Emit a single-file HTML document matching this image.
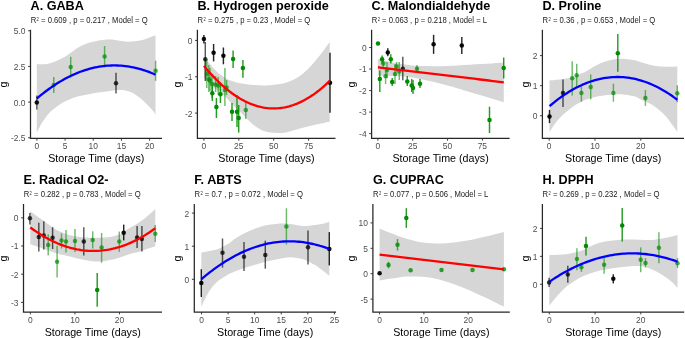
<!DOCTYPE html>
<html><head><meta charset="utf-8"><style>
html,body{margin:0;padding:0;background:#fff;}
svg{display:block;will-change:transform;}
text{font-family:"Liberation Sans",sans-serif;}
.tt{font-size:12.65px;font-weight:bold;fill:#000;}
.st{font-size:8.6px;fill:#1a1a1a;}
.at{font-size:8.45px;fill:#4d4d4d;}
.xt{font-size:10.7px;fill:#000;}
</style></head><body>
<svg width="685" height="338" viewBox="0 0 685 338">
<rect width="685" height="338" fill="#fff"/>
<path d="M36.80,63.90 C37.50,63.95 39.30,64.20 41.00,64.20 C42.70,64.20 45.00,64.22 47.00,63.90 C49.00,63.58 51.00,63.00 53.00,62.30 C55.00,61.60 57.00,60.62 59.00,59.70 C61.00,58.78 63.17,57.87 65.00,56.80 C66.83,55.73 68.07,54.70 70.00,53.30 C71.93,51.90 74.38,49.80 76.60,48.40 C78.82,47.00 81.07,45.87 83.30,44.90 C85.53,43.93 87.78,43.27 90.00,42.60 C92.22,41.93 94.38,41.33 96.60,40.90 C98.82,40.47 101.07,40.22 103.30,40.00 C105.53,39.78 108.05,39.60 110.00,39.60 C111.95,39.60 113.07,39.77 115.00,40.00 C116.93,40.23 119.38,40.72 121.60,41.00 C123.82,41.28 126.07,41.65 128.30,41.70 C130.53,41.75 132.78,41.53 135.00,41.30 C137.22,41.07 139.38,40.85 141.60,40.30 C143.82,39.75 145.98,38.83 148.30,38.00 C150.62,37.17 154.30,35.75 155.50,35.30 L155.50,114.90L155.50,114.90 C155.13,114.30 154.78,113.12 153.30,111.30 C151.82,109.48 148.82,106.22 146.60,104.00 C144.38,101.78 142.22,99.78 140.00,98.00 C137.78,96.22 135.53,94.52 133.30,93.30 C131.07,92.08 128.82,91.25 126.60,90.70 C124.38,90.15 122.77,89.97 120.00,90.00 C117.23,90.03 113.33,90.52 110.00,90.90 C106.67,91.28 103.33,91.78 100.00,92.30 C96.67,92.82 93.33,93.38 90.00,94.00 C86.67,94.62 82.50,95.45 80.00,96.00 C77.50,96.55 76.95,96.63 75.00,97.30 C73.05,97.97 70.53,99.00 68.30,100.00 C66.07,101.00 63.82,101.97 61.60,103.30 C59.38,104.63 57.22,106.22 55.00,108.00 C52.78,109.78 50.52,111.45 48.30,114.00 C46.08,116.55 43.62,120.20 41.70,123.30 C39.78,126.40 37.62,131.05 36.80,132.60 Z" fill="#d6d6d6"/>
<line x1="36.80" y1="95.50" x2="36.80" y2="109.50" stroke="#000000" stroke-opacity="0.62" stroke-width="1.45"/>
<circle cx="36.80" cy="102.40" r="2.25" fill="#000000" fill-opacity="0.93"/>
<line x1="53.80" y1="76.90" x2="53.80" y2="93.10" stroke="#008b00" stroke-opacity="0.58" stroke-width="1.45"/>
<circle cx="53.80" cy="85.10" r="2.25" fill="#008b00" fill-opacity="0.70"/>
<line x1="70.70" y1="56.80" x2="70.70" y2="77.50" stroke="#008b00" stroke-opacity="0.58" stroke-width="1.45"/>
<circle cx="70.70" cy="67.10" r="2.25" fill="#008b00" fill-opacity="0.70"/>
<line x1="104.60" y1="46.00" x2="104.60" y2="67.30" stroke="#008b00" stroke-opacity="0.58" stroke-width="1.45"/>
<circle cx="104.60" cy="56.60" r="2.25" fill="#008b00" fill-opacity="0.70"/>
<line x1="116.00" y1="72.70" x2="116.00" y2="93.50" stroke="#000000" stroke-opacity="0.66" stroke-width="1.45"/>
<circle cx="116.00" cy="83.30" r="2.25" fill="#000000" fill-opacity="0.76"/>
<line x1="155.60" y1="60.70" x2="155.60" y2="80.80" stroke="#008b00" stroke-opacity="0.58" stroke-width="1.45"/>
<circle cx="155.60" cy="70.80" r="2.25" fill="#008b00" fill-opacity="0.70"/>
<polyline points="36.80,98.50 38.81,96.81 40.82,95.16 42.84,93.56 44.85,92.00 46.86,90.49 48.87,89.02 50.88,87.59 52.89,86.21 54.91,84.87 56.92,83.58 58.93,82.33 60.94,81.13 62.95,79.97 64.97,78.86 66.98,77.79 68.99,76.76 71.00,75.78 73.01,74.84 75.03,73.95 77.04,73.10 79.05,72.30 81.06,71.54 83.07,70.83 85.08,70.16 87.10,69.53 89.11,68.95 91.12,68.41 93.13,67.92 95.14,67.47 97.16,67.07 99.17,66.71 101.18,66.40 103.19,66.13 105.20,65.90 107.22,65.72 109.23,65.58 111.24,65.49 113.25,65.44 115.26,65.44 117.27,65.48 119.29,65.56 121.30,65.69 123.31,65.87 125.32,66.09 127.33,66.35 129.35,66.66 131.36,67.01 133.37,67.40 135.38,67.84 137.39,68.33 139.41,68.86 141.42,69.43 143.43,70.05 145.44,70.71 147.45,71.42 149.46,72.17 151.48,72.97 153.49,73.81 155.50,74.69" fill="none" stroke="#0000ff" stroke-width="2.3" stroke-linejoin="round"/>
<path d="M30.50,29.70 V138.30 H162.00" fill="none" stroke="#262626" stroke-width="1.25"/>
<line x1="28.10" y1="137.77" x2="30.50" y2="137.77" stroke="#333" stroke-width="0.95"/>
<text x="25.50" y="141.17" class="at" text-anchor="end">-2.5</text>
<line x1="28.10" y1="102.10" x2="30.50" y2="102.10" stroke="#333" stroke-width="0.95"/>
<text x="25.50" y="105.50" class="at" text-anchor="end">0.0</text>
<line x1="28.10" y1="66.42" x2="30.50" y2="66.42" stroke="#333" stroke-width="0.95"/>
<text x="25.50" y="69.83" class="at" text-anchor="end">2.5</text>
<line x1="28.10" y1="30.75" x2="30.50" y2="30.75" stroke="#333" stroke-width="0.95"/>
<text x="25.50" y="34.15" class="at" text-anchor="end">5.0</text>
<line x1="36.90" y1="138.30" x2="36.90" y2="140.70" stroke="#333" stroke-width="0.95"/>
<text x="36.90" y="149.20" class="at" text-anchor="middle">0</text>
<line x1="65.07" y1="138.30" x2="65.07" y2="140.70" stroke="#333" stroke-width="0.95"/>
<text x="65.07" y="149.20" class="at" text-anchor="middle">5</text>
<line x1="93.25" y1="138.30" x2="93.25" y2="140.70" stroke="#333" stroke-width="0.95"/>
<text x="93.25" y="149.20" class="at" text-anchor="middle">10</text>
<line x1="121.42" y1="138.30" x2="121.42" y2="140.70" stroke="#333" stroke-width="0.95"/>
<text x="121.42" y="149.20" class="at" text-anchor="middle">15</text>
<line x1="149.60" y1="138.30" x2="149.60" y2="140.70" stroke="#333" stroke-width="0.95"/>
<text x="149.60" y="149.20" class="at" text-anchor="middle">20</text>
<text x="30.50" y="10.00" class="tt">A. GABA</text>
<text transform="translate(30.70,23.40) scale(0.895,1)" class="st">R<tspan font-size="4.5" dx="0.4" dy="-2.0">2</tspan><tspan dy="2.0"> </tspan>= 0.609 , p = 0.217 , Model = Q</text>
<text x="96.25" y="162.00" class="xt" text-anchor="middle">Storage Time (days)</text>
<text transform="translate(6.94,84.50) rotate(-90)" class="xt" text-anchor="middle">g</text>
<path d="M203.90,58.50 C204.58,59.05 206.65,60.45 208.00,61.80 C209.35,63.15 210.67,65.12 212.00,66.60 C213.33,68.08 214.67,69.42 216.00,70.70 C217.33,71.98 218.33,73.02 220.00,74.30 C221.67,75.58 224.00,77.28 226.00,78.40 C228.00,79.52 229.67,80.20 232.00,81.00 C234.33,81.80 236.33,82.53 240.00,83.20 C243.67,83.87 249.67,84.63 254.00,85.00 C258.33,85.37 262.00,85.52 266.00,85.40 C270.00,85.28 274.83,84.72 278.00,84.30 C281.17,83.88 282.35,83.72 285.00,82.90 C287.65,82.08 290.93,80.93 293.90,79.40 C296.87,77.87 299.85,76.07 302.80,73.70 C305.75,71.33 308.65,68.40 311.60,65.20 C314.55,62.00 317.48,58.37 320.50,54.50 C323.52,50.63 328.17,44.08 329.70,42.00 L329.70,121.70L329.70,121.70 C328.08,122.03 323.28,123.00 320.00,123.70 C316.72,124.40 313.33,125.08 310.00,125.90 C306.67,126.72 303.33,127.65 300.00,128.60 C296.67,129.55 293.00,130.87 290.00,131.60 C287.00,132.33 284.50,132.80 282.00,133.00 C279.50,133.20 277.60,133.02 275.00,132.80 C272.40,132.58 268.82,132.27 266.40,131.70 C263.98,131.13 262.47,130.38 260.50,129.40 C258.53,128.42 256.57,127.28 254.60,125.80 C252.63,124.32 250.67,122.38 248.70,120.50 C246.73,118.62 244.78,116.48 242.80,114.50 C240.82,112.52 238.78,110.57 236.80,108.60 C234.82,106.63 232.87,104.77 230.90,102.70 C228.93,100.63 227.33,98.35 225.00,96.20 C222.67,94.05 219.40,91.83 216.90,89.80 C214.40,87.77 212.17,85.97 210.00,84.00 C207.83,82.03 204.92,79.00 203.90,78.00 Z" fill="#d6d6d6"/>
<line x1="203.90" y1="35.00" x2="203.90" y2="43.50" stroke="#000000" stroke-opacity="0.85" stroke-width="1.45"/>
<circle cx="203.90" cy="39.10" r="2.25" fill="#000000" fill-opacity="0.95"/>
<line x1="205.30" y1="42.00" x2="205.30" y2="81.00" stroke="#000000" stroke-opacity="0.66" stroke-width="1.45"/>
<circle cx="205.30" cy="59.20" r="2.25" fill="#000000" fill-opacity="0.76"/>
<line x1="213.60" y1="44.00" x2="213.60" y2="61.40" stroke="#000000" stroke-opacity="0.85" stroke-width="1.45"/>
<circle cx="213.60" cy="52.70" r="2.25" fill="#000000" fill-opacity="0.95"/>
<line x1="223.40" y1="47.50" x2="223.40" y2="64.30" stroke="#000000" stroke-opacity="0.85" stroke-width="1.45"/>
<circle cx="223.40" cy="55.80" r="2.25" fill="#000000" fill-opacity="0.95"/>
<line x1="233.10" y1="50.40" x2="233.10" y2="68.00" stroke="#008b00" stroke-opacity="0.85" stroke-width="1.45"/>
<circle cx="233.10" cy="59.00" r="2.25" fill="#008b00" fill-opacity="1.00"/>
<line x1="242.90" y1="60.00" x2="242.90" y2="77.70" stroke="#008b00" stroke-opacity="0.85" stroke-width="1.45"/>
<circle cx="242.90" cy="68.00" r="2.25" fill="#008b00" fill-opacity="1.00"/>
<line x1="206.80" y1="59.00" x2="206.80" y2="88.00" stroke="#008b00" stroke-opacity="0.58" stroke-width="1.45"/>
<circle cx="206.80" cy="74.00" r="2.25" fill="#008b00" fill-opacity="0.70"/>
<line x1="208.80" y1="65.00" x2="208.80" y2="92.00" stroke="#008b00" stroke-opacity="0.58" stroke-width="1.45"/>
<circle cx="208.80" cy="79.20" r="2.25" fill="#008b00" fill-opacity="0.70"/>
<line x1="210.00" y1="68.00" x2="210.00" y2="91.00" stroke="#008b00" stroke-opacity="0.58" stroke-width="1.45"/>
<circle cx="210.00" cy="80.50" r="2.25" fill="#008b00" fill-opacity="0.70"/>
<line x1="212.00" y1="74.00" x2="212.00" y2="98.00" stroke="#008b00" stroke-opacity="0.58" stroke-width="1.45"/>
<circle cx="212.00" cy="84.00" r="2.25" fill="#008b00" fill-opacity="0.70"/>
<line x1="215.60" y1="76.00" x2="215.60" y2="92.00" stroke="#008b00" stroke-opacity="0.58" stroke-width="1.45"/>
<circle cx="215.60" cy="84.40" r="2.25" fill="#008b00" fill-opacity="0.70"/>
<line x1="218.20" y1="77.00" x2="218.20" y2="95.00" stroke="#008b00" stroke-opacity="0.58" stroke-width="1.45"/>
<circle cx="218.20" cy="85.50" r="2.25" fill="#008b00" fill-opacity="0.70"/>
<line x1="212.30" y1="85.50" x2="212.30" y2="101.00" stroke="#008b00" stroke-opacity="0.85" stroke-width="1.45"/>
<circle cx="212.30" cy="93.20" r="2.25" fill="#008b00" fill-opacity="1.00"/>
<line x1="220.40" y1="85.00" x2="220.40" y2="103.00" stroke="#008b00" stroke-opacity="0.85" stroke-width="1.45"/>
<circle cx="220.40" cy="94.30" r="2.25" fill="#008b00" fill-opacity="1.00"/>
<line x1="216.40" y1="98.00" x2="216.40" y2="118.00" stroke="#008b00" stroke-opacity="0.85" stroke-width="1.45"/>
<circle cx="216.40" cy="107.00" r="2.25" fill="#008b00" fill-opacity="1.00"/>
<line x1="224.90" y1="68.00" x2="224.90" y2="106.00" stroke="#008b00" stroke-opacity="0.58" stroke-width="1.45"/>
<circle cx="224.90" cy="90.10" r="2.25" fill="#008b00" fill-opacity="0.70"/>
<line x1="226.60" y1="80.00" x2="226.60" y2="95.00" stroke="#008b00" stroke-opacity="0.58" stroke-width="1.45"/>
<circle cx="226.60" cy="87.50" r="2.25" fill="#008b00" fill-opacity="0.70"/>
<line x1="232.00" y1="103.00" x2="232.00" y2="121.00" stroke="#008b00" stroke-opacity="0.85" stroke-width="1.45"/>
<circle cx="232.00" cy="111.80" r="2.25" fill="#008b00" fill-opacity="1.00"/>
<line x1="237.00" y1="95.00" x2="237.00" y2="127.00" stroke="#008b00" stroke-opacity="0.85" stroke-width="1.45"/>
<circle cx="237.00" cy="111.80" r="2.25" fill="#008b00" fill-opacity="1.00"/>
<line x1="238.70" y1="105.00" x2="238.70" y2="132.60" stroke="#008b00" stroke-opacity="0.85" stroke-width="1.45"/>
<circle cx="238.70" cy="118.00" r="2.25" fill="#008b00" fill-opacity="1.00"/>
<line x1="245.80" y1="102.00" x2="245.80" y2="119.00" stroke="#008b00" stroke-opacity="0.58" stroke-width="1.45"/>
<circle cx="245.80" cy="110.10" r="2.25" fill="#008b00" fill-opacity="0.70"/>
<line x1="330.00" y1="52.80" x2="330.00" y2="112.70" stroke="#000000" stroke-opacity="0.85" stroke-width="1.45"/>
<circle cx="330.00" cy="82.70" r="2.25" fill="#000000" fill-opacity="0.95"/>
<polyline points="203.90,65.87 206.03,68.43 208.16,70.92 210.30,73.33 212.43,75.65 214.56,77.90 216.69,80.06 218.83,82.15 220.96,84.16 223.09,86.08 225.22,87.93 227.35,89.70 229.49,91.39 231.62,93.00 233.75,94.53 235.88,95.98 238.02,97.34 240.15,98.63 242.28,99.84 244.41,100.97 246.54,102.03 248.68,103.00 250.81,103.89 252.94,104.70 255.07,105.43 257.21,106.08 259.34,106.66 261.47,107.15 263.60,107.56 265.73,107.90 267.87,108.15 270.00,108.32 272.13,108.42 274.26,108.43 276.39,108.37 278.53,108.22 280.66,108.00 282.79,107.69 284.92,107.31 287.06,106.85 289.19,106.30 291.32,105.68 293.45,104.98 295.58,104.20 297.72,103.33 299.85,102.39 301.98,101.37 304.11,100.27 306.25,99.09 308.38,97.83 310.51,96.49 312.64,95.07 314.77,93.57 316.91,91.99 319.04,90.33 321.17,88.59 323.30,86.77 325.44,84.88 327.57,82.90 329.70,80.84" fill="none" stroke="#ff0000" stroke-width="2.3" stroke-linejoin="round"/>
<path d="M197.40,29.70 V138.30 H335.50" fill="none" stroke="#262626" stroke-width="1.25"/>
<line x1="195.00" y1="113.10" x2="197.40" y2="113.10" stroke="#333" stroke-width="0.95"/>
<text x="192.40" y="116.50" class="at" text-anchor="end">-2</text>
<line x1="195.00" y1="76.75" x2="197.40" y2="76.75" stroke="#333" stroke-width="0.95"/>
<text x="192.40" y="80.15" class="at" text-anchor="end">-1</text>
<line x1="195.00" y1="40.40" x2="197.40" y2="40.40" stroke="#333" stroke-width="0.95"/>
<text x="192.40" y="43.80" class="at" text-anchor="end">0</text>
<line x1="203.90" y1="138.30" x2="203.90" y2="140.70" stroke="#333" stroke-width="0.95"/>
<text x="203.90" y="149.20" class="at" text-anchor="middle">0</text>
<line x1="238.80" y1="138.30" x2="238.80" y2="140.70" stroke="#333" stroke-width="0.95"/>
<text x="238.80" y="149.20" class="at" text-anchor="middle">25</text>
<line x1="273.70" y1="138.30" x2="273.70" y2="140.70" stroke="#333" stroke-width="0.95"/>
<text x="273.70" y="149.20" class="at" text-anchor="middle">50</text>
<line x1="308.60" y1="138.30" x2="308.60" y2="140.70" stroke="#333" stroke-width="0.95"/>
<text x="308.60" y="149.20" class="at" text-anchor="middle">75</text>
<text x="197.40" y="10.00" class="tt">B. Hydrogen peroxide</text>
<text transform="translate(197.60,23.40) scale(0.895,1)" class="st">R<tspan font-size="4.5" dx="0.4" dy="-2.0">2</tspan><tspan dy="2.0"> </tspan>= 0.275 , p = 0.23 , Model = Q</text>
<text x="266.45" y="162.00" class="xt" text-anchor="middle">Storage Time (days)</text>
<text transform="translate(180.89,84.50) rotate(-90)" class="xt" text-anchor="middle">g</text>
<path d="M377.90,59.10 C379.80,59.55 385.48,60.98 389.30,61.80 C393.12,62.62 396.98,63.38 400.80,64.00 C404.62,64.62 408.38,65.15 412.20,65.50 C416.02,65.85 419.88,65.98 423.70,66.10 C427.52,66.22 431.28,66.23 435.10,66.20 C438.92,66.17 442.78,66.03 446.60,65.90 C450.42,65.77 454.18,65.58 458.00,65.40 C461.82,65.22 465.68,65.02 469.50,64.80 C473.32,64.58 477.08,64.33 480.90,64.10 C484.72,63.87 488.58,63.65 492.40,63.40 C496.22,63.15 501.90,62.73 503.80,62.60 L503.80,102.20L503.80,102.20 C501.90,101.62 496.22,99.85 492.40,98.70 C488.58,97.55 484.72,96.43 480.90,95.30 C477.08,94.17 473.32,93.03 469.50,91.90 C465.68,90.77 461.82,89.60 458.00,88.50 C454.18,87.40 450.42,86.33 446.60,85.30 C442.78,84.27 438.92,83.23 435.10,82.30 C431.28,81.37 427.52,80.48 423.70,79.70 C419.88,78.92 416.02,78.17 412.20,77.60 C408.38,77.03 404.62,76.60 400.80,76.30 C396.98,76.00 393.12,75.88 389.30,75.80 C385.48,75.72 379.80,75.80 377.90,75.80 Z" fill="#d6d6d6"/>
<circle cx="378.00" cy="43.50" r="2.25" fill="#008b00" fill-opacity="1.00"/>
<line x1="387.80" y1="48.30" x2="387.80" y2="56.30" stroke="#000000" stroke-opacity="0.85" stroke-width="1.45"/>
<circle cx="387.80" cy="52.40" r="2.25" fill="#000000" fill-opacity="0.95"/>
<line x1="382.10" y1="55.40" x2="382.10" y2="63.40" stroke="#008b00" stroke-opacity="0.85" stroke-width="1.45"/>
<circle cx="382.10" cy="59.30" r="2.25" fill="#008b00" fill-opacity="1.00"/>
<line x1="390.80" y1="54.20" x2="390.80" y2="63.40" stroke="#008b00" stroke-opacity="0.85" stroke-width="1.45"/>
<circle cx="390.80" cy="59.30" r="2.25" fill="#008b00" fill-opacity="1.00"/>
<line x1="383.30" y1="58.00" x2="383.30" y2="68.00" stroke="#008b00" stroke-opacity="0.58" stroke-width="1.45"/>
<circle cx="383.30" cy="63.40" r="2.25" fill="#008b00" fill-opacity="0.70"/>
<line x1="396.60" y1="62.00" x2="396.60" y2="72.00" stroke="#008b00" stroke-opacity="0.58" stroke-width="1.45"/>
<circle cx="396.60" cy="66.60" r="2.25" fill="#008b00" fill-opacity="0.70"/>
<line x1="399.30" y1="62.00" x2="399.30" y2="80.00" stroke="#008b00" stroke-opacity="0.58" stroke-width="1.45"/>
<circle cx="399.30" cy="71.40" r="2.25" fill="#008b00" fill-opacity="0.70"/>
<line x1="402.80" y1="56.70" x2="402.80" y2="80.30" stroke="#000000" stroke-opacity="0.66" stroke-width="1.45"/>
<circle cx="402.80" cy="68.70" r="2.25" fill="#000000" fill-opacity="0.76"/>
<line x1="417.00" y1="65.00" x2="417.00" y2="73.00" stroke="#008b00" stroke-opacity="0.58" stroke-width="1.45"/>
<circle cx="417.00" cy="68.70" r="2.25" fill="#008b00" fill-opacity="0.70"/>
<line x1="379.80" y1="70.50" x2="379.80" y2="92.00" stroke="#008b00" stroke-opacity="0.85" stroke-width="1.45"/>
<circle cx="379.80" cy="79.00" r="2.25" fill="#008b00" fill-opacity="1.00"/>
<line x1="385.60" y1="70.00" x2="385.60" y2="84.00" stroke="#008b00" stroke-opacity="0.58" stroke-width="1.45"/>
<circle cx="385.60" cy="76.20" r="2.25" fill="#008b00" fill-opacity="0.70"/>
<line x1="392.20" y1="78.00" x2="392.20" y2="86.00" stroke="#008b00" stroke-opacity="0.85" stroke-width="1.45"/>
<circle cx="392.20" cy="82.00" r="2.25" fill="#008b00" fill-opacity="1.00"/>
<line x1="407.30" y1="76.00" x2="407.30" y2="86.00" stroke="#008b00" stroke-opacity="0.85" stroke-width="1.45"/>
<circle cx="407.30" cy="81.50" r="2.25" fill="#008b00" fill-opacity="1.00"/>
<line x1="411.70" y1="79.00" x2="411.70" y2="92.00" stroke="#008b00" stroke-opacity="0.85" stroke-width="1.45"/>
<circle cx="411.70" cy="85.60" r="2.25" fill="#008b00" fill-opacity="1.00"/>
<line x1="413.00" y1="80.00" x2="413.00" y2="94.00" stroke="#008b00" stroke-opacity="0.85" stroke-width="1.45"/>
<circle cx="413.00" cy="87.90" r="2.25" fill="#008b00" fill-opacity="1.00"/>
<line x1="420.00" y1="79.00" x2="420.00" y2="88.00" stroke="#008b00" stroke-opacity="0.85" stroke-width="1.45"/>
<circle cx="420.00" cy="83.80" r="2.25" fill="#008b00" fill-opacity="1.00"/>
<line x1="395.00" y1="64.00" x2="395.00" y2="84.00" stroke="#008b00" stroke-opacity="0.58" stroke-width="1.45"/>
<circle cx="395.00" cy="74.00" r="2.25" fill="#008b00" fill-opacity="0.70"/>
<line x1="387.00" y1="62.00" x2="387.00" y2="78.00" stroke="#008b00" stroke-opacity="0.58" stroke-width="1.45"/>
<circle cx="387.00" cy="70.00" r="2.25" fill="#008b00" fill-opacity="0.70"/>
<line x1="433.60" y1="34.80" x2="433.60" y2="53.90" stroke="#000000" stroke-opacity="0.85" stroke-width="1.45"/>
<circle cx="433.60" cy="44.20" r="2.25" fill="#000000" fill-opacity="0.95"/>
<line x1="461.80" y1="37.00" x2="461.80" y2="53.90" stroke="#000000" stroke-opacity="0.85" stroke-width="1.45"/>
<circle cx="461.80" cy="45.40" r="2.25" fill="#000000" fill-opacity="0.95"/>
<line x1="503.70" y1="57.50" x2="503.70" y2="78.50" stroke="#008b00" stroke-opacity="0.85" stroke-width="1.45"/>
<circle cx="503.70" cy="68.00" r="2.25" fill="#008b00" fill-opacity="1.00"/>
<line x1="489.50" y1="106.70" x2="489.50" y2="133.00" stroke="#008b00" stroke-opacity="0.85" stroke-width="1.45"/>
<circle cx="489.50" cy="120.00" r="2.25" fill="#008b00" fill-opacity="1.00"/>
<polyline points="377.90,67.26 380.03,67.52 382.17,67.77 384.30,68.03 386.44,68.28 388.57,68.54 390.70,68.79 392.84,69.05 394.97,69.30 397.11,69.56 399.24,69.81 401.37,70.07 403.51,70.32 405.64,70.58 407.77,70.83 409.91,71.08 412.04,71.34 414.18,71.59 416.31,71.85 418.44,72.10 420.58,72.36 422.71,72.61 424.85,72.87 426.98,73.12 429.11,73.38 431.25,73.63 433.38,73.89 435.52,74.14 437.65,74.40 439.78,74.65 441.92,74.91 444.05,75.16 446.18,75.42 448.32,75.67 450.45,75.93 452.59,76.18 454.72,76.44 456.85,76.69 458.99,76.94 461.12,77.20 463.26,77.45 465.39,77.71 467.52,77.96 469.66,78.22 471.79,78.47 473.93,78.73 476.06,78.98 478.19,79.24 480.33,79.49 482.46,79.75 484.59,80.00 486.73,80.26 488.86,80.51 491.00,80.77 493.13,81.02 495.26,81.28 497.40,81.53 499.53,81.79 501.67,82.04 503.80,82.29" fill="none" stroke="#ff0000" stroke-width="2.3" stroke-linejoin="round"/>
<path d="M371.60,29.70 V138.30 H509.60" fill="none" stroke="#262626" stroke-width="1.25"/>
<line x1="369.20" y1="133.60" x2="371.60" y2="133.60" stroke="#333" stroke-width="0.95"/>
<text x="366.60" y="137.00" class="at" text-anchor="end">-4</text>
<line x1="369.20" y1="112.07" x2="371.60" y2="112.07" stroke="#333" stroke-width="0.95"/>
<text x="366.60" y="115.47" class="at" text-anchor="end">-3</text>
<line x1="369.20" y1="90.55" x2="371.60" y2="90.55" stroke="#333" stroke-width="0.95"/>
<text x="366.60" y="93.95" class="at" text-anchor="end">-2</text>
<line x1="369.20" y1="69.03" x2="371.60" y2="69.03" stroke="#333" stroke-width="0.95"/>
<text x="366.60" y="72.43" class="at" text-anchor="end">-1</text>
<line x1="369.20" y1="47.50" x2="371.60" y2="47.50" stroke="#333" stroke-width="0.95"/>
<text x="366.60" y="50.90" class="at" text-anchor="end">0</text>
<line x1="377.90" y1="138.30" x2="377.90" y2="140.70" stroke="#333" stroke-width="0.95"/>
<text x="377.90" y="149.20" class="at" text-anchor="middle">0</text>
<line x1="412.72" y1="138.30" x2="412.72" y2="140.70" stroke="#333" stroke-width="0.95"/>
<text x="412.72" y="149.20" class="at" text-anchor="middle">25</text>
<line x1="447.55" y1="138.30" x2="447.55" y2="140.70" stroke="#333" stroke-width="0.95"/>
<text x="447.55" y="149.20" class="at" text-anchor="middle">50</text>
<line x1="482.38" y1="138.30" x2="482.38" y2="140.70" stroke="#333" stroke-width="0.95"/>
<text x="482.38" y="149.20" class="at" text-anchor="middle">75</text>
<text x="371.60" y="10.00" class="tt">C. Malondialdehyde</text>
<text transform="translate(371.80,23.40) scale(0.895,1)" class="st">R<tspan font-size="4.5" dx="0.4" dy="-2.0">2</tspan><tspan dy="2.0"> </tspan>= 0.063 , p = 0.218 , Model = L</text>
<text x="440.60" y="162.00" class="xt" text-anchor="middle">Storage Time (days)</text>
<text transform="translate(355.09,84.50) rotate(-90)" class="xt" text-anchor="middle">g</text>
<path d="M549.50,80.40 C550.75,80.28 554.75,79.95 557.00,79.70 C559.25,79.45 561.00,79.18 563.00,78.90 C565.00,78.62 567.00,78.40 569.00,78.00 C571.00,77.60 573.00,77.23 575.00,76.50 C577.00,75.77 579.33,74.35 581.00,73.60 C582.67,72.85 582.67,73.27 585.00,72.00 C587.33,70.73 591.67,67.75 595.00,66.00 C598.33,64.25 601.67,62.63 605.00,61.50 C608.33,60.37 611.67,59.63 615.00,59.20 C618.33,58.77 621.67,58.72 625.00,58.90 C628.33,59.08 632.17,59.68 635.00,60.30 C637.83,60.92 638.83,61.70 642.00,62.60 C645.17,63.50 650.00,65.00 654.00,65.70 C658.00,66.40 662.12,66.68 666.00,66.80 C669.88,66.92 675.42,66.47 677.30,66.40 L677.30,132.00L677.30,132.00 C675.42,129.42 669.88,120.85 666.00,116.50 C662.12,112.15 658.00,108.65 654.00,105.90 C650.00,103.15 645.17,101.57 642.00,100.00 C638.83,98.43 637.83,97.38 635.00,96.50 C632.17,95.62 628.33,95.05 625.00,94.70 C621.67,94.35 618.33,94.30 615.00,94.40 C611.67,94.50 608.33,94.87 605.00,95.30 C601.67,95.73 598.33,96.22 595.00,97.00 C591.67,97.78 587.50,99.10 585.00,100.00 C582.50,100.90 581.67,101.52 580.00,102.40 C578.33,103.28 576.67,104.22 575.00,105.30 C573.33,106.38 571.67,107.62 570.00,108.90 C568.33,110.18 566.67,111.52 565.00,113.00 C563.33,114.48 561.67,116.02 560.00,117.80 C558.33,119.58 556.75,121.33 555.00,123.70 C553.25,126.07 550.42,130.62 549.50,132.00 Z" fill="#d6d6d6"/>
<line x1="549.50" y1="110.00" x2="549.50" y2="123.10" stroke="#000000" stroke-opacity="0.85" stroke-width="1.45"/>
<circle cx="549.50" cy="116.60" r="2.25" fill="#000000" fill-opacity="0.95"/>
<line x1="563.00" y1="79.50" x2="563.00" y2="106.90" stroke="#000000" stroke-opacity="0.66" stroke-width="1.45"/>
<circle cx="563.00" cy="93.10" r="2.25" fill="#000000" fill-opacity="0.76"/>
<line x1="572.20" y1="61.20" x2="572.20" y2="95.40" stroke="#008b00" stroke-opacity="0.58" stroke-width="1.45"/>
<circle cx="572.20" cy="78.30" r="2.25" fill="#008b00" fill-opacity="0.70"/>
<line x1="576.70" y1="63.80" x2="576.70" y2="87.70" stroke="#008b00" stroke-opacity="0.58" stroke-width="1.45"/>
<circle cx="576.70" cy="75.30" r="2.25" fill="#008b00" fill-opacity="0.70"/>
<line x1="581.40" y1="86.60" x2="581.40" y2="101.70" stroke="#008b00" stroke-opacity="0.58" stroke-width="1.45"/>
<circle cx="581.40" cy="93.10" r="2.25" fill="#008b00" fill-opacity="0.70"/>
<line x1="590.70" y1="74.50" x2="590.70" y2="99.40" stroke="#008b00" stroke-opacity="0.58" stroke-width="1.45"/>
<circle cx="590.70" cy="86.90" r="2.25" fill="#008b00" fill-opacity="0.70"/>
<line x1="617.80" y1="34.00" x2="617.80" y2="71.70" stroke="#008b00" stroke-opacity="0.85" stroke-width="1.45"/>
<circle cx="617.80" cy="53.20" r="2.25" fill="#008b00" fill-opacity="1.00"/>
<line x1="613.40" y1="83.70" x2="613.40" y2="101.80" stroke="#008b00" stroke-opacity="0.58" stroke-width="1.45"/>
<circle cx="613.40" cy="93.00" r="2.25" fill="#008b00" fill-opacity="0.70"/>
<line x1="645.40" y1="90.00" x2="645.40" y2="105.90" stroke="#008b00" stroke-opacity="0.58" stroke-width="1.45"/>
<circle cx="645.40" cy="98.10" r="2.25" fill="#008b00" fill-opacity="0.70"/>
<line x1="677.30" y1="85.30" x2="677.30" y2="102.30" stroke="#008b00" stroke-opacity="0.58" stroke-width="1.45"/>
<circle cx="677.30" cy="93.30" r="2.25" fill="#008b00" fill-opacity="0.70"/>
<polyline points="549.50,106.16 551.67,104.33 553.83,102.56 556.00,100.84 558.16,99.19 560.33,97.60 562.50,96.06 564.66,94.59 566.83,93.17 568.99,91.81 571.16,90.52 573.33,89.28 575.49,88.10 577.66,86.98 579.83,85.92 581.99,84.92 584.16,83.98 586.32,83.10 588.49,82.28 590.66,81.51 592.82,80.81 594.99,80.17 597.15,79.58 599.32,79.06 601.49,78.59 603.65,78.18 605.82,77.84 607.98,77.55 610.15,77.32 612.32,77.15 614.48,77.05 616.65,77.00 618.82,77.01 620.98,77.07 623.15,77.20 625.31,77.39 627.48,77.64 629.65,77.95 631.81,78.31 633.98,78.74 636.14,79.22 638.31,79.77 640.48,80.37 642.64,81.03 644.81,81.76 646.97,82.54 649.14,83.38 651.31,84.28 653.47,85.24 655.64,86.26 657.81,87.34 659.97,88.48 662.14,89.68 664.30,90.94 666.47,92.25 668.64,93.63 670.80,95.07 672.97,96.56 675.13,98.12 677.30,99.73" fill="none" stroke="#0000ff" stroke-width="2.3" stroke-linejoin="round"/>
<path d="M542.40,29.70 V138.30 H684.00" fill="none" stroke="#262626" stroke-width="1.25"/>
<line x1="540.00" y1="115.70" x2="542.40" y2="115.70" stroke="#333" stroke-width="0.95"/>
<text x="537.40" y="119.10" class="at" text-anchor="end">0</text>
<line x1="540.00" y1="85.65" x2="542.40" y2="85.65" stroke="#333" stroke-width="0.95"/>
<text x="537.40" y="89.05" class="at" text-anchor="end">1</text>
<line x1="540.00" y1="55.60" x2="542.40" y2="55.60" stroke="#333" stroke-width="0.95"/>
<text x="537.40" y="59.00" class="at" text-anchor="end">2</text>
<line x1="549.20" y1="138.30" x2="549.20" y2="140.70" stroke="#333" stroke-width="0.95"/>
<text x="549.20" y="149.20" class="at" text-anchor="middle">0</text>
<line x1="595.00" y1="138.30" x2="595.00" y2="140.70" stroke="#333" stroke-width="0.95"/>
<text x="595.00" y="149.20" class="at" text-anchor="middle">10</text>
<line x1="640.80" y1="138.30" x2="640.80" y2="140.70" stroke="#333" stroke-width="0.95"/>
<text x="640.80" y="149.20" class="at" text-anchor="middle">20</text>
<text x="542.40" y="10.00" class="tt">D. Proline</text>
<text transform="translate(542.60,23.40) scale(0.895,1)" class="st">R<tspan font-size="4.5" dx="0.4" dy="-2.0">2</tspan><tspan dy="2.0"> </tspan>= 0.36 , p = 0.653 , Model = Q</text>
<text x="613.20" y="162.00" class="xt" text-anchor="middle">Storage Time (days)</text>
<text transform="translate(528.70,84.50) rotate(-90)" class="xt" text-anchor="middle">g</text>
<path d="M30.30,211.20 C31.08,211.80 33.38,213.62 35.00,214.80 C36.62,215.98 38.33,217.12 40.00,218.30 C41.67,219.48 43.33,220.72 45.00,221.90 C46.67,223.08 48.33,224.22 50.00,225.40 C51.67,226.58 53.33,227.97 55.00,229.00 C56.67,230.03 58.33,230.87 60.00,231.60 C61.67,232.33 63.33,232.80 65.00,233.40 C66.67,234.00 67.50,234.60 70.00,235.20 C72.50,235.80 76.67,236.57 80.00,237.00 C83.33,237.43 86.67,237.67 90.00,237.80 C93.33,237.93 96.67,237.93 100.00,237.80 C103.33,237.67 106.67,237.58 110.00,237.00 C113.33,236.42 117.50,235.33 120.00,234.30 C122.50,233.27 122.50,232.35 125.00,230.80 C127.50,229.25 131.67,227.08 135.00,225.00 C138.33,222.92 141.62,220.95 145.00,218.30 C148.38,215.65 153.58,210.63 155.30,209.10 L155.30,246.20L155.30,246.20 C154.08,246.60 150.55,247.72 148.00,248.60 C145.45,249.48 143.00,250.60 140.00,251.50 C137.00,252.40 133.33,253.02 130.00,254.00 C126.67,254.98 123.33,256.40 120.00,257.40 C116.67,258.40 113.33,259.32 110.00,260.00 C106.67,260.68 103.33,261.35 100.00,261.50 C96.67,261.65 93.33,261.30 90.00,260.90 C86.67,260.50 83.33,259.83 80.00,259.10 C76.67,258.37 73.97,257.48 70.00,256.50 C66.03,255.52 60.72,254.55 56.20,253.20 C51.68,251.85 47.22,249.90 42.90,248.40 C38.58,246.90 32.40,244.90 30.30,244.20 Z" fill="#d6d6d6"/>
<line x1="29.90" y1="213.00" x2="29.90" y2="224.50" stroke="#000000" stroke-opacity="0.66" stroke-width="1.45"/>
<circle cx="29.90" cy="218.30" r="2.25" fill="#000000" fill-opacity="0.76"/>
<line x1="38.80" y1="222.80" x2="38.80" y2="251.50" stroke="#000000" stroke-opacity="0.66" stroke-width="1.45"/>
<circle cx="38.80" cy="237.00" r="2.25" fill="#000000" fill-opacity="0.76"/>
<line x1="43.80" y1="221.30" x2="43.80" y2="249.40" stroke="#000000" stroke-opacity="0.66" stroke-width="1.45"/>
<circle cx="43.80" cy="235.50" r="2.25" fill="#000000" fill-opacity="0.76"/>
<line x1="48.20" y1="234.30" x2="48.20" y2="255.60" stroke="#008b00" stroke-opacity="0.58" stroke-width="1.45"/>
<circle cx="48.20" cy="245.00" r="2.25" fill="#008b00" fill-opacity="0.70"/>
<line x1="52.60" y1="227.20" x2="52.60" y2="249.00" stroke="#000000" stroke-opacity="0.66" stroke-width="1.45"/>
<circle cx="52.60" cy="237.80" r="2.25" fill="#000000" fill-opacity="0.76"/>
<line x1="57.10" y1="245.80" x2="57.10" y2="277.60" stroke="#008b00" stroke-opacity="0.58" stroke-width="1.45"/>
<circle cx="57.10" cy="261.80" r="2.25" fill="#008b00" fill-opacity="0.70"/>
<line x1="61.50" y1="233.40" x2="61.50" y2="248.50" stroke="#008b00" stroke-opacity="0.58" stroke-width="1.45"/>
<circle cx="61.50" cy="240.50" r="2.25" fill="#008b00" fill-opacity="0.70"/>
<line x1="66.00" y1="229.90" x2="66.00" y2="252.60" stroke="#008b00" stroke-opacity="0.58" stroke-width="1.45"/>
<circle cx="66.00" cy="241.40" r="2.25" fill="#008b00" fill-opacity="0.70"/>
<line x1="75.00" y1="229.00" x2="75.00" y2="252.00" stroke="#008b00" stroke-opacity="0.58" stroke-width="1.45"/>
<circle cx="75.00" cy="240.90" r="2.25" fill="#008b00" fill-opacity="0.70"/>
<line x1="83.80" y1="227.20" x2="83.80" y2="255.60" stroke="#000000" stroke-opacity="0.66" stroke-width="1.45"/>
<circle cx="83.80" cy="241.40" r="2.25" fill="#000000" fill-opacity="0.76"/>
<line x1="92.70" y1="231.30" x2="92.70" y2="248.50" stroke="#008b00" stroke-opacity="0.58" stroke-width="1.45"/>
<circle cx="92.70" cy="240.10" r="2.25" fill="#008b00" fill-opacity="0.70"/>
<line x1="101.60" y1="233.00" x2="101.60" y2="262.70" stroke="#008b00" stroke-opacity="0.58" stroke-width="1.45"/>
<circle cx="101.60" cy="247.60" r="2.25" fill="#008b00" fill-opacity="0.70"/>
<line x1="97.20" y1="273.00" x2="97.20" y2="306.70" stroke="#008b00" stroke-opacity="0.85" stroke-width="1.45"/>
<circle cx="97.20" cy="289.90" r="2.25" fill="#008b00" fill-opacity="1.00"/>
<line x1="119.30" y1="231.60" x2="119.30" y2="251.80" stroke="#008b00" stroke-opacity="0.58" stroke-width="1.45"/>
<circle cx="119.30" cy="241.60" r="2.25" fill="#008b00" fill-opacity="0.70"/>
<line x1="123.70" y1="224.60" x2="123.70" y2="240.40" stroke="#000000" stroke-opacity="0.85" stroke-width="1.45"/>
<circle cx="123.70" cy="232.70" r="2.25" fill="#000000" fill-opacity="0.95"/>
<line x1="137.10" y1="226.00" x2="137.10" y2="248.10" stroke="#000000" stroke-opacity="0.66" stroke-width="1.45"/>
<circle cx="137.10" cy="237.50" r="2.25" fill="#000000" fill-opacity="0.76"/>
<line x1="141.90" y1="226.00" x2="141.90" y2="251.50" stroke="#000000" stroke-opacity="0.66" stroke-width="1.45"/>
<circle cx="141.90" cy="239.00" r="2.25" fill="#000000" fill-opacity="0.76"/>
<line x1="155.30" y1="225.00" x2="155.30" y2="241.90" stroke="#008b00" stroke-opacity="0.58" stroke-width="1.45"/>
<circle cx="155.30" cy="233.70" r="2.25" fill="#008b00" fill-opacity="0.70"/>
<polyline points="30.30,227.41 32.42,228.97 34.54,230.47 36.66,231.92 38.77,233.31 40.89,234.65 43.01,235.94 45.13,237.18 47.25,238.36 49.37,239.49 51.49,240.57 53.61,241.59 55.72,242.56 57.84,243.48 59.96,244.34 62.08,245.15 64.20,245.91 66.32,246.62 68.44,247.27 70.55,247.87 72.67,248.41 74.79,248.91 76.91,249.35 79.03,249.73 81.15,250.07 83.27,250.35 85.38,250.57 87.50,250.75 89.62,250.87 91.74,250.94 93.86,250.95 95.98,250.91 98.10,250.82 100.22,250.68 102.33,250.48 104.45,250.23 106.57,249.93 108.69,249.57 110.81,249.16 112.93,248.70 115.05,248.18 117.16,247.61 119.28,246.99 121.40,246.32 123.52,245.59 125.64,244.81 127.76,243.97 129.88,243.08 131.99,242.14 134.11,241.15 136.23,240.10 138.35,239.00 140.47,237.85 142.59,236.64 144.71,235.38 146.83,234.07 148.94,232.71 151.06,231.29 153.18,229.82 155.30,228.29" fill="none" stroke="#ff0000" stroke-width="2.3" stroke-linejoin="round"/>
<path d="M23.50,203.90 V312.00 H162.00" fill="none" stroke="#262626" stroke-width="1.25"/>
<line x1="21.10" y1="302.40" x2="23.50" y2="302.40" stroke="#333" stroke-width="0.95"/>
<text x="18.50" y="305.80" class="at" text-anchor="end">-3</text>
<line x1="21.10" y1="274.20" x2="23.50" y2="274.20" stroke="#333" stroke-width="0.95"/>
<text x="18.50" y="277.60" class="at" text-anchor="end">-2</text>
<line x1="21.10" y1="246.00" x2="23.50" y2="246.00" stroke="#333" stroke-width="0.95"/>
<text x="18.50" y="249.40" class="at" text-anchor="end">-1</text>
<line x1="21.10" y1="217.80" x2="23.50" y2="217.80" stroke="#333" stroke-width="0.95"/>
<text x="18.50" y="221.20" class="at" text-anchor="end">0</text>
<line x1="30.40" y1="312.00" x2="30.40" y2="314.40" stroke="#333" stroke-width="0.95"/>
<text x="30.40" y="322.90" class="at" text-anchor="middle">0</text>
<line x1="74.95" y1="312.00" x2="74.95" y2="314.40" stroke="#333" stroke-width="0.95"/>
<text x="74.95" y="322.90" class="at" text-anchor="middle">10</text>
<line x1="119.50" y1="312.00" x2="119.50" y2="314.40" stroke="#333" stroke-width="0.95"/>
<text x="119.50" y="322.90" class="at" text-anchor="middle">20</text>
<text x="23.50" y="184.00" class="tt">E. Radical O2-</text>
<text transform="translate(23.70,197.40) scale(0.895,1)" class="st">R<tspan font-size="4.5" dx="0.4" dy="-2.0">2</tspan><tspan dy="2.0"> </tspan>= 0.282 , p = 0.783 , Model = Q</text>
<text x="92.75" y="335.70" class="xt" text-anchor="middle">Storage Time (days)</text>
<text transform="translate(6.99,258.45) rotate(-90)" class="xt" text-anchor="middle">g</text>
<path d="M201.30,252.50 C202.08,252.37 204.55,251.93 206.00,251.70 C207.45,251.47 208.67,251.37 210.00,251.10 C211.33,250.83 212.67,250.47 214.00,250.10 C215.33,249.73 216.67,249.38 218.00,248.90 C219.33,248.42 220.67,247.83 222.00,247.20 C223.33,246.57 224.67,245.83 226.00,245.10 C227.33,244.37 228.33,243.98 230.00,242.80 C231.67,241.62 233.33,239.73 236.00,238.00 C238.67,236.27 242.67,234.02 246.00,232.40 C249.33,230.78 252.67,229.48 256.00,228.30 C259.33,227.12 262.67,226.03 266.00,225.30 C269.33,224.57 272.67,224.18 276.00,223.90 C279.33,223.62 282.83,223.45 286.00,223.60 C289.17,223.75 292.00,224.38 295.00,224.80 C298.00,225.22 300.67,226.07 304.00,226.10 C307.33,226.13 312.00,225.37 315.00,225.00 C318.00,224.63 319.62,224.45 322.00,223.90 C324.38,223.35 328.08,222.07 329.30,221.70 L329.30,275.70L329.30,275.70 C328.08,274.73 324.38,271.68 322.00,269.90 C319.62,268.12 318.00,266.75 315.00,265.00 C312.00,263.25 307.67,260.67 304.00,259.40 C300.33,258.13 296.00,257.67 293.00,257.40 C290.00,257.13 288.83,257.47 286.00,257.80 C283.17,258.13 279.33,258.78 276.00,259.40 C272.67,260.02 269.33,260.67 266.00,261.50 C262.67,262.33 259.33,263.42 256.00,264.40 C252.67,265.38 249.33,266.30 246.00,267.40 C242.67,268.50 238.67,269.97 236.00,271.00 C233.33,272.03 231.67,272.80 230.00,273.60 C228.33,274.40 227.33,275.03 226.00,275.80 C224.67,276.57 223.33,277.33 222.00,278.20 C220.67,279.07 219.33,279.85 218.00,281.00 C216.67,282.15 215.33,283.60 214.00,285.10 C212.67,286.60 211.33,288.02 210.00,290.00 C208.67,291.98 207.45,294.22 206.00,297.00 C204.55,299.78 202.08,305.08 201.30,306.70 Z" fill="#d6d6d6"/>
<line x1="201.30" y1="269.20" x2="201.30" y2="297.00" stroke="#000000" stroke-opacity="0.85" stroke-width="1.45"/>
<circle cx="201.30" cy="283.10" r="2.25" fill="#000000" fill-opacity="0.95"/>
<line x1="222.50" y1="238.50" x2="222.50" y2="267.60" stroke="#000000" stroke-opacity="0.66" stroke-width="1.45"/>
<circle cx="222.50" cy="252.80" r="2.25" fill="#000000" fill-opacity="0.76"/>
<line x1="244.00" y1="242.00" x2="244.00" y2="270.90" stroke="#000000" stroke-opacity="0.66" stroke-width="1.45"/>
<circle cx="244.00" cy="256.70" r="2.25" fill="#000000" fill-opacity="0.76"/>
<line x1="265.30" y1="240.70" x2="265.30" y2="268.60" stroke="#000000" stroke-opacity="0.66" stroke-width="1.45"/>
<circle cx="265.30" cy="255.00" r="2.25" fill="#000000" fill-opacity="0.76"/>
<line x1="286.40" y1="208.30" x2="286.40" y2="244.60" stroke="#008b00" stroke-opacity="0.58" stroke-width="1.45"/>
<circle cx="286.40" cy="226.60" r="2.25" fill="#008b00" fill-opacity="0.70"/>
<line x1="308.00" y1="230.60" x2="308.00" y2="264.60" stroke="#000000" stroke-opacity="0.66" stroke-width="1.45"/>
<circle cx="308.00" cy="247.20" r="2.25" fill="#000000" fill-opacity="0.76"/>
<line x1="329.30" y1="232.10" x2="329.30" y2="265.40" stroke="#000000" stroke-opacity="0.85" stroke-width="1.45"/>
<circle cx="329.30" cy="249.00" r="2.25" fill="#000000" fill-opacity="0.95"/>
<polyline points="201.30,279.29 203.47,277.45 205.64,275.65 207.81,273.90 209.98,272.20 212.15,270.54 214.32,268.92 216.49,267.36 218.66,265.84 220.83,264.36 222.99,262.93 225.16,261.55 227.33,260.21 229.50,258.92 231.67,257.67 233.84,256.47 236.01,255.32 238.18,254.21 240.35,253.15 242.52,252.13 244.69,251.16 246.86,250.23 249.03,249.35 251.20,248.52 253.37,247.73 255.54,246.99 257.71,246.29 259.88,245.64 262.05,245.03 264.22,244.47 266.38,243.96 268.55,243.49 270.72,243.07 272.89,242.69 275.06,242.36 277.23,242.08 279.40,241.84 281.57,241.65 283.74,241.50 285.91,241.40 288.08,241.34 290.25,241.33 292.42,241.37 294.59,241.45 296.76,241.58 298.93,241.75 301.10,241.97 303.27,242.23 305.44,242.55 307.61,242.90 309.77,243.30 311.94,243.75 314.11,244.25 316.28,244.79 318.45,245.37 320.62,246.00 322.79,246.68 324.96,247.40 327.13,248.17 329.30,248.98" fill="none" stroke="#0000ff" stroke-width="2.3" stroke-linejoin="round"/>
<path d="M194.30,203.90 V312.00 H336.00" fill="none" stroke="#262626" stroke-width="1.25"/>
<line x1="191.90" y1="279.30" x2="194.30" y2="279.30" stroke="#333" stroke-width="0.95"/>
<text x="189.30" y="282.70" class="at" text-anchor="end">0</text>
<line x1="191.90" y1="246.20" x2="194.30" y2="246.20" stroke="#333" stroke-width="0.95"/>
<text x="189.30" y="249.60" class="at" text-anchor="end">1</text>
<line x1="191.90" y1="213.10" x2="194.30" y2="213.10" stroke="#333" stroke-width="0.95"/>
<text x="189.30" y="216.50" class="at" text-anchor="end">2</text>
<line x1="201.50" y1="312.00" x2="201.50" y2="314.40" stroke="#333" stroke-width="0.95"/>
<text x="201.50" y="322.90" class="at" text-anchor="middle">0</text>
<line x1="228.08" y1="312.00" x2="228.08" y2="314.40" stroke="#333" stroke-width="0.95"/>
<text x="228.08" y="322.90" class="at" text-anchor="middle">5</text>
<line x1="254.66" y1="312.00" x2="254.66" y2="314.40" stroke="#333" stroke-width="0.95"/>
<text x="254.66" y="322.90" class="at" text-anchor="middle">10</text>
<line x1="281.24" y1="312.00" x2="281.24" y2="314.40" stroke="#333" stroke-width="0.95"/>
<text x="281.24" y="322.90" class="at" text-anchor="middle">15</text>
<line x1="307.82" y1="312.00" x2="307.82" y2="314.40" stroke="#333" stroke-width="0.95"/>
<text x="307.82" y="322.90" class="at" text-anchor="middle">20</text>
<line x1="334.40" y1="312.00" x2="334.40" y2="314.40" stroke="#333" stroke-width="0.95"/>
<text x="334.40" y="322.90" class="at" text-anchor="middle">25</text>
<text x="194.30" y="184.00" class="tt">F. ABTS</text>
<text transform="translate(194.50,197.40) scale(0.895,1)" class="st">R<tspan font-size="4.5" dx="0.4" dy="-2.0">2</tspan><tspan dy="2.0"> </tspan>= 0.7 , p = 0.072 , Model = Q</text>
<text x="265.15" y="335.70" class="xt" text-anchor="middle">Storage Time (days)</text>
<text transform="translate(180.60,258.45) rotate(-90)" class="xt" text-anchor="middle">g</text>
<path d="M379.60,228.50 C381.20,229.18 386.02,231.32 389.20,232.60 C392.38,233.88 395.52,235.08 398.70,236.20 C401.88,237.32 405.12,238.38 408.30,239.30 C411.48,240.22 414.62,241.07 417.80,241.70 C420.98,242.33 424.20,242.78 427.40,243.10 C430.60,243.42 433.82,243.57 437.00,243.60 C440.18,243.63 443.32,243.52 446.50,243.30 C449.68,243.08 452.90,242.73 456.10,242.30 C459.30,241.87 462.52,241.27 465.70,240.70 C468.88,240.13 472.02,239.55 475.20,238.90 C478.38,238.25 481.62,237.53 484.80,236.80 C487.98,236.07 491.12,235.28 494.30,234.50 C497.48,233.72 502.30,232.50 503.90,232.10 L503.90,306.60L503.90,306.60 C502.30,305.82 497.48,303.45 494.30,301.90 C491.12,300.35 487.98,298.80 484.80,297.30 C481.62,295.80 478.38,294.32 475.20,292.90 C472.02,291.48 468.88,290.12 465.70,288.80 C462.52,287.48 459.30,286.18 456.10,285.00 C452.90,283.82 449.68,282.68 446.50,281.70 C443.32,280.72 440.18,279.83 437.00,279.10 C433.82,278.37 430.60,277.73 427.40,277.30 C424.20,276.87 420.98,276.62 417.80,276.50 C414.62,276.38 411.48,276.45 408.30,276.60 C405.12,276.75 401.88,277.03 398.70,277.40 C395.52,277.77 392.38,278.27 389.20,278.80 C386.02,279.33 381.20,280.30 379.60,280.60 Z" fill="#d6d6d6"/>
<circle cx="379.60" cy="273.30" r="2.25" fill="#000000" fill-opacity="0.93"/>
<line x1="388.50" y1="261.80" x2="388.50" y2="268.30" stroke="#008b00" stroke-opacity="0.70" stroke-width="1.45"/>
<circle cx="388.50" cy="264.90" r="2.25" fill="#008b00" fill-opacity="0.80"/>
<line x1="397.50" y1="239.10" x2="397.50" y2="250.60" stroke="#008b00" stroke-opacity="0.70" stroke-width="1.45"/>
<circle cx="397.50" cy="244.70" r="2.25" fill="#008b00" fill-opacity="0.80"/>
<line x1="406.30" y1="208.20" x2="406.30" y2="227.80" stroke="#008b00" stroke-opacity="0.85" stroke-width="1.45"/>
<circle cx="406.30" cy="218.10" r="2.25" fill="#008b00" fill-opacity="1.00"/>
<circle cx="410.60" cy="270.30" r="2.25" fill="#008b00" fill-opacity="0.80"/>
<circle cx="441.50" cy="270.10" r="2.25" fill="#008b00" fill-opacity="0.80"/>
<circle cx="472.50" cy="270.10" r="2.25" fill="#008b00" fill-opacity="0.80"/>
<circle cx="503.90" cy="269.30" r="2.25" fill="#008b00" fill-opacity="0.80"/>
<polyline points="379.60,254.55 381.71,254.80 383.81,255.05 385.92,255.30 388.03,255.55 390.13,255.80 392.24,256.05 394.35,256.30 396.45,256.56 398.56,256.81 400.67,257.06 402.77,257.31 404.88,257.56 406.99,257.81 409.09,258.06 411.20,258.31 413.31,258.56 415.42,258.81 417.52,259.06 419.63,259.31 421.74,259.56 423.84,259.81 425.95,260.06 428.06,260.31 430.16,260.56 432.27,260.81 434.38,261.06 436.48,261.31 438.59,261.56 440.70,261.81 442.80,262.06 444.91,262.31 447.02,262.56 449.12,262.81 451.23,263.06 453.34,263.32 455.44,263.57 457.55,263.82 459.66,264.07 461.76,264.32 463.87,264.57 465.98,264.82 468.08,265.07 470.19,265.32 472.30,265.57 474.41,265.82 476.51,266.07 478.62,266.32 480.73,266.57 482.83,266.82 484.94,267.07 487.05,267.32 489.15,267.57 491.26,267.82 493.37,268.07 495.47,268.32 497.58,268.57 499.69,268.82 501.79,269.07 503.90,269.32" fill="none" stroke="#ff0000" stroke-width="2.3" stroke-linejoin="round"/>
<path d="M372.90,203.90 V312.00 H509.80" fill="none" stroke="#262626" stroke-width="1.25"/>
<line x1="370.50" y1="299.10" x2="372.90" y2="299.10" stroke="#333" stroke-width="0.95"/>
<text x="367.90" y="302.50" class="at" text-anchor="end">-5</text>
<line x1="370.50" y1="273.70" x2="372.90" y2="273.70" stroke="#333" stroke-width="0.95"/>
<text x="367.90" y="277.10" class="at" text-anchor="end">0</text>
<line x1="370.50" y1="248.30" x2="372.90" y2="248.30" stroke="#333" stroke-width="0.95"/>
<text x="367.90" y="251.70" class="at" text-anchor="end">5</text>
<line x1="370.50" y1="222.90" x2="372.90" y2="222.90" stroke="#333" stroke-width="0.95"/>
<text x="367.90" y="226.30" class="at" text-anchor="end">10</text>
<line x1="379.60" y1="312.00" x2="379.60" y2="314.40" stroke="#333" stroke-width="0.95"/>
<text x="379.60" y="322.90" class="at" text-anchor="middle">0</text>
<line x1="423.90" y1="312.00" x2="423.90" y2="314.40" stroke="#333" stroke-width="0.95"/>
<text x="423.90" y="322.90" class="at" text-anchor="middle">10</text>
<line x1="468.20" y1="312.00" x2="468.20" y2="314.40" stroke="#333" stroke-width="0.95"/>
<text x="468.20" y="322.90" class="at" text-anchor="middle">20</text>
<text x="372.90" y="184.00" class="tt">G. CUPRAC</text>
<text transform="translate(373.10,197.40) scale(0.895,1)" class="st">R<tspan font-size="4.5" dx="0.4" dy="-2.0">2</tspan><tspan dy="2.0"> </tspan>= 0.077 , p = 0.506 , Model = L</text>
<text x="441.35" y="335.70" class="xt" text-anchor="middle">Storage Time (days)</text>
<text transform="translate(354.50,258.45) rotate(-90)" class="xt" text-anchor="middle">g</text>
<path d="M549.30,255.00 C550.87,254.97 555.62,254.98 558.70,254.80 C561.78,254.62 564.77,254.35 567.80,253.90 C570.83,253.45 574.25,252.78 576.90,252.10 C579.55,251.42 581.50,250.73 583.70,249.80 C585.90,248.87 587.72,247.60 590.10,246.50 C592.48,245.40 595.02,244.10 598.00,243.20 C600.98,242.30 604.67,241.65 608.00,241.10 C611.33,240.55 614.67,240.17 618.00,239.90 C621.33,239.63 624.33,239.53 628.00,239.50 C631.67,239.47 636.00,239.63 640.00,239.70 C644.00,239.77 648.33,240.10 652.00,239.90 C655.67,239.70 658.67,239.08 662.00,238.50 C665.33,237.92 669.42,237.00 672.00,236.40 C674.58,235.80 676.58,235.15 677.50,234.90 L677.50,288.10L677.50,288.10 C676.58,287.07 674.58,284.13 672.00,281.90 C669.42,279.67 665.33,276.77 662.00,274.70 C658.67,272.63 655.00,270.85 652.00,269.50 C649.00,268.15 646.33,267.18 644.00,266.60 C641.67,266.02 640.67,266.03 638.00,266.00 C635.33,265.97 631.33,266.17 628.00,266.40 C624.67,266.63 621.33,266.98 618.00,267.40 C614.67,267.82 611.33,268.30 608.00,268.90 C604.67,269.50 600.98,270.23 598.00,271.00 C595.02,271.77 592.48,272.67 590.10,273.50 C587.72,274.33 585.90,275.02 583.70,276.00 C581.50,276.98 579.55,277.80 576.90,279.40 C574.25,281.00 570.83,283.13 567.80,285.60 C564.77,288.07 561.78,290.87 558.70,294.20 C555.62,297.53 550.87,303.70 549.30,305.60 Z" fill="#d6d6d6"/>
<line x1="549.10" y1="277.80" x2="549.10" y2="286.90" stroke="#000000" stroke-opacity="0.66" stroke-width="1.45"/>
<circle cx="549.10" cy="282.40" r="2.25" fill="#000000" fill-opacity="0.76"/>
<line x1="567.80" y1="265.80" x2="567.80" y2="282.80" stroke="#000000" stroke-opacity="0.66" stroke-width="1.45"/>
<circle cx="567.80" cy="274.40" r="2.25" fill="#000000" fill-opacity="0.76"/>
<line x1="576.90" y1="248.20" x2="576.90" y2="270.30" stroke="#008b00" stroke-opacity="0.58" stroke-width="1.45"/>
<circle cx="576.90" cy="258.90" r="2.25" fill="#008b00" fill-opacity="0.70"/>
<line x1="581.40" y1="263.40" x2="581.40" y2="271.90" stroke="#008b00" stroke-opacity="0.58" stroke-width="1.45"/>
<circle cx="581.40" cy="267.30" r="2.25" fill="#008b00" fill-opacity="0.70"/>
<line x1="586.00" y1="236.80" x2="586.00" y2="255.50" stroke="#008b00" stroke-opacity="0.85" stroke-width="1.45"/>
<circle cx="586.00" cy="245.90" r="2.25" fill="#008b00" fill-opacity="1.00"/>
<line x1="604.10" y1="257.70" x2="604.10" y2="273.70" stroke="#008b00" stroke-opacity="0.58" stroke-width="1.45"/>
<circle cx="604.10" cy="264.80" r="2.25" fill="#008b00" fill-opacity="0.70"/>
<line x1="613.30" y1="274.30" x2="613.30" y2="283.40" stroke="#000000" stroke-opacity="0.85" stroke-width="1.45"/>
<circle cx="613.30" cy="278.80" r="2.25" fill="#000000" fill-opacity="0.95"/>
<line x1="622.20" y1="208.00" x2="622.20" y2="241.60" stroke="#008b00" stroke-opacity="0.85" stroke-width="1.45"/>
<circle cx="622.20" cy="225.40" r="2.25" fill="#008b00" fill-opacity="1.00"/>
<line x1="640.70" y1="247.40" x2="640.70" y2="272.20" stroke="#008b00" stroke-opacity="0.58" stroke-width="1.45"/>
<circle cx="640.70" cy="259.80" r="2.25" fill="#008b00" fill-opacity="0.70"/>
<line x1="645.50" y1="258.10" x2="645.50" y2="267.40" stroke="#008b00" stroke-opacity="0.58" stroke-width="1.45"/>
<circle cx="645.50" cy="262.90" r="2.25" fill="#008b00" fill-opacity="0.70"/>
<line x1="658.90" y1="232.20" x2="658.90" y2="263.30" stroke="#008b00" stroke-opacity="0.58" stroke-width="1.45"/>
<circle cx="658.90" cy="247.80" r="2.25" fill="#008b00" fill-opacity="0.70"/>
<line x1="677.50" y1="258.10" x2="677.50" y2="268.10" stroke="#008b00" stroke-opacity="0.58" stroke-width="1.45"/>
<circle cx="677.50" cy="263.30" r="2.25" fill="#008b00" fill-opacity="0.70"/>
<polyline points="549.30,281.80 551.47,280.33 553.65,278.90 555.82,277.51 557.99,276.16 560.16,274.85 562.34,273.57 564.51,272.34 566.68,271.14 568.86,269.99 571.03,268.87 573.20,267.79 575.37,266.75 577.55,265.75 579.72,264.79 581.89,263.86 584.07,262.98 586.24,262.13 588.41,261.33 590.58,260.56 592.76,259.83 594.93,259.14 597.10,258.49 599.28,257.88 601.45,257.30 603.62,256.77 605.79,256.27 607.97,255.82 610.14,255.40 612.31,255.02 614.49,254.68 616.66,254.38 618.83,254.12 621.01,253.89 623.18,253.71 625.35,253.56 627.52,253.46 629.70,253.39 631.87,253.36 634.04,253.37 636.22,253.42 638.39,253.51 640.56,253.63 642.73,253.80 644.91,254.00 647.08,254.25 649.25,254.53 651.43,254.85 653.60,255.21 655.77,255.61 657.94,256.05 660.12,256.52 662.29,257.04 664.46,257.59 666.64,258.18 668.81,258.82 670.98,259.49 673.15,260.20 675.33,260.95 677.50,261.73" fill="none" stroke="#0000ff" stroke-width="2.3" stroke-linejoin="round"/>
<path d="M542.40,203.90 V312.00 H684.20" fill="none" stroke="#262626" stroke-width="1.25"/>
<line x1="540.00" y1="284.30" x2="542.40" y2="284.30" stroke="#333" stroke-width="0.95"/>
<text x="537.40" y="287.70" class="at" text-anchor="end">0</text>
<line x1="540.00" y1="256.35" x2="542.40" y2="256.35" stroke="#333" stroke-width="0.95"/>
<text x="537.40" y="259.75" class="at" text-anchor="end">1</text>
<line x1="540.00" y1="228.40" x2="542.40" y2="228.40" stroke="#333" stroke-width="0.95"/>
<text x="537.40" y="231.80" class="at" text-anchor="end">2</text>
<line x1="549.30" y1="312.00" x2="549.30" y2="314.40" stroke="#333" stroke-width="0.95"/>
<text x="549.30" y="322.90" class="at" text-anchor="middle">0</text>
<line x1="595.05" y1="312.00" x2="595.05" y2="314.40" stroke="#333" stroke-width="0.95"/>
<text x="595.05" y="322.90" class="at" text-anchor="middle">10</text>
<line x1="640.80" y1="312.00" x2="640.80" y2="314.40" stroke="#333" stroke-width="0.95"/>
<text x="640.80" y="322.90" class="at" text-anchor="middle">20</text>
<text x="542.40" y="184.00" class="tt">H. DPPH</text>
<text transform="translate(542.60,197.40) scale(0.895,1)" class="st">R<tspan font-size="4.5" dx="0.4" dy="-2.0">2</tspan><tspan dy="2.0"> </tspan>= 0.269 , p = 0.232 , Model = Q</text>
<text x="613.30" y="335.70" class="xt" text-anchor="middle">Storage Time (days)</text>
<text transform="translate(528.70,258.45) rotate(-90)" class="xt" text-anchor="middle">g</text>
</svg>
</body></html>
